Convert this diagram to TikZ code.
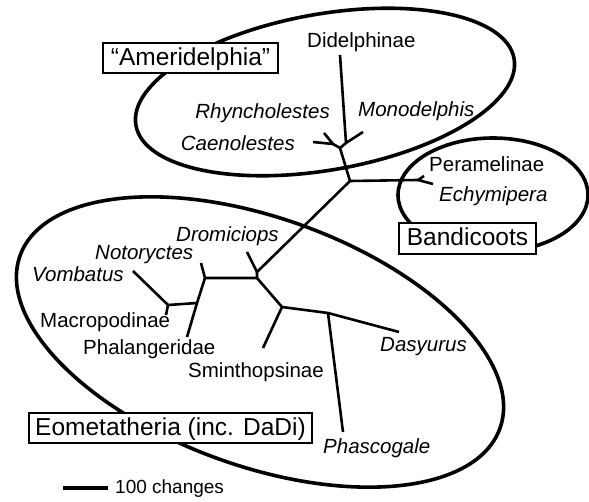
\documentclass[tikz,border=0pt]{standalone}
\usepackage{fontspec}
\setmainfont{Liberation Sans}
\begin{document}
\begin{tikzpicture}[x=1pt,y=-1pt,
  branch/.style={line width=2.6pt,line join=round},
  clade/.style={line width=3.6pt},
  lab/.style={inner sep=0pt,font=\fontsize{20.5}{24}\selectfont},
  ilab/.style={inner sep=0pt,font=\fontsize{20.5}{24}\selectfont\itshape},
  cladebox/.style={draw,line width=1.2pt,fill=white,inner sep=0pt,
    text height=20pt,text depth=5pt,align=center,
    font=\fontsize{24.5}{28}\selectfont}]
\useasboundingbox (0,0) rectangle (589,502);

% clade ellipses
\draw[clade,rotate around={10:(325,92)}] (325,92) ellipse [x radius=192pt, y radius=78pt];
\draw[clade] (493,195) ellipse [x radius=95pt, y radius=57pt];
\draw[clade,rotate around={-19.8:(260,342)}] (260,342) ellipse [x radius=255pt, y radius=124pt];

% tree nodes
\coordinate (R) at (350,181);
\coordinate (A) at (340,148);
\coordinate (C) at (333,144);
\coordinate (D) at (346,143);
\coordinate (tDid) at (340,55);
\coordinate (tMon) at (363,132);
\coordinate (tCae) at (313,142);
\coordinate (tRhy) at (324,133);
\coordinate (B) at (418,180);
\coordinate (tPer) at (424,176);
\coordinate (tEch) at (433,184);
\coordinate (Dr) at (257,272);
\coordinate (tDro) at (247,252);
\coordinate (E) at (257,278);
\coordinate (F) at (205,278);
\coordinate (tNot) at (201,263);
\coordinate (G) at (197,303);
\coordinate (tPha) at (187,337);
\coordinate (H) at (168,305);
\coordinate (tVom) at (133,271);
\coordinate (tMac) at (166,315);
\coordinate (I) at (282,307);
\coordinate (tSmi) at (263,348);
\coordinate (J) at (328,313);
\coordinate (tDas) at (399,332);
\coordinate (tPhc) at (343,432);

% branches
\draw[branch] (C) -- (A) -- (D);
\draw[branch] (tCae) -- (C) -- (tRhy);
\draw[branch] (tDid) -- (D) -- (tMon);
\draw[branch] (A) -- (R) -- (B);
\draw[branch] (tPer) -- (B) -- (tEch);
\draw[branch] (R) -- (Dr) -- (E);
\draw[branch] (Dr) -- (tDro);
\draw[branch] (E) -- (F) -- (tNot);
\draw[branch] (F) -- (G) -- (tPha);
\draw[branch] (G) -- (H);
\draw[branch] (tVom) -- (H) -- (tMac);
\draw[branch] (E) -- (I) -- (tSmi);
\draw[branch] (I) -- (J) -- (tDas);
\draw[branch] (J) -- (tPhc);

% labels
\node[lab,anchor=base west] (lDid) at (307,48) {Didelphinae};
\node[ilab,anchor=base east] (lRhy) at (330,119) {Rhyncholestes};
\node[ilab,anchor=base east] (lCae) at (295,151) {Caenolestes};
\node[ilab,anchor=base west] (lMon) at (358,117) {Monodelphis};
\node[lab,anchor=base west] (lPer) at (429,172) {Peramelinae};
\node[ilab,anchor=base west] (lEch) at (439,202) {Echymipera};
\node[ilab,anchor=base west] (lDro) at (176,242) {Dromiciops};
\node[ilab,anchor=base west] (lNot) at (95,260) {Notoryctes};
\node[ilab,anchor=base west] (lVom) at (32,282) {Vombatus};
\node[lab,anchor=base west] (lMac) at (40,328) {Macropodinae};
\node[lab,anchor=base west] (lPha) at (83,355) {Phalangeridae};
\node[lab,anchor=base west] (lSmi) at (188,378) {Sminthopsinae};
\node[ilab,anchor=base west] (lDas) at (380,352) {Dasyurus};
\node[ilab,anchor=base west] (lPhc) at (323,453) {Phascogale};

% clade boxes
\node[cladebox,minimum width=175pt,minimum height=30pt] (bAme) at (190.5,58) {“Ameridelphia”};
\node[cladebox,minimum width=137pt,minimum height=31pt] (bBan) at (467.5,238.5) {Bandicoots};
\node[cladebox,minimum width=283pt,minimum height=30pt] (bEom) at (170.5,428) {Eometatheria (inc. DaDi)};

% scale bar
\coordinate (s1) at (63,488);
\coordinate (s2) at (108,488);
\draw[line width=3.2pt] (s1) -- (s2);
\node[inner sep=0pt,anchor=base west,font=\fontsize{19}{22}\selectfont] (lScale) at (115,493) {100 changes};
\end{tikzpicture}
\end{document}
